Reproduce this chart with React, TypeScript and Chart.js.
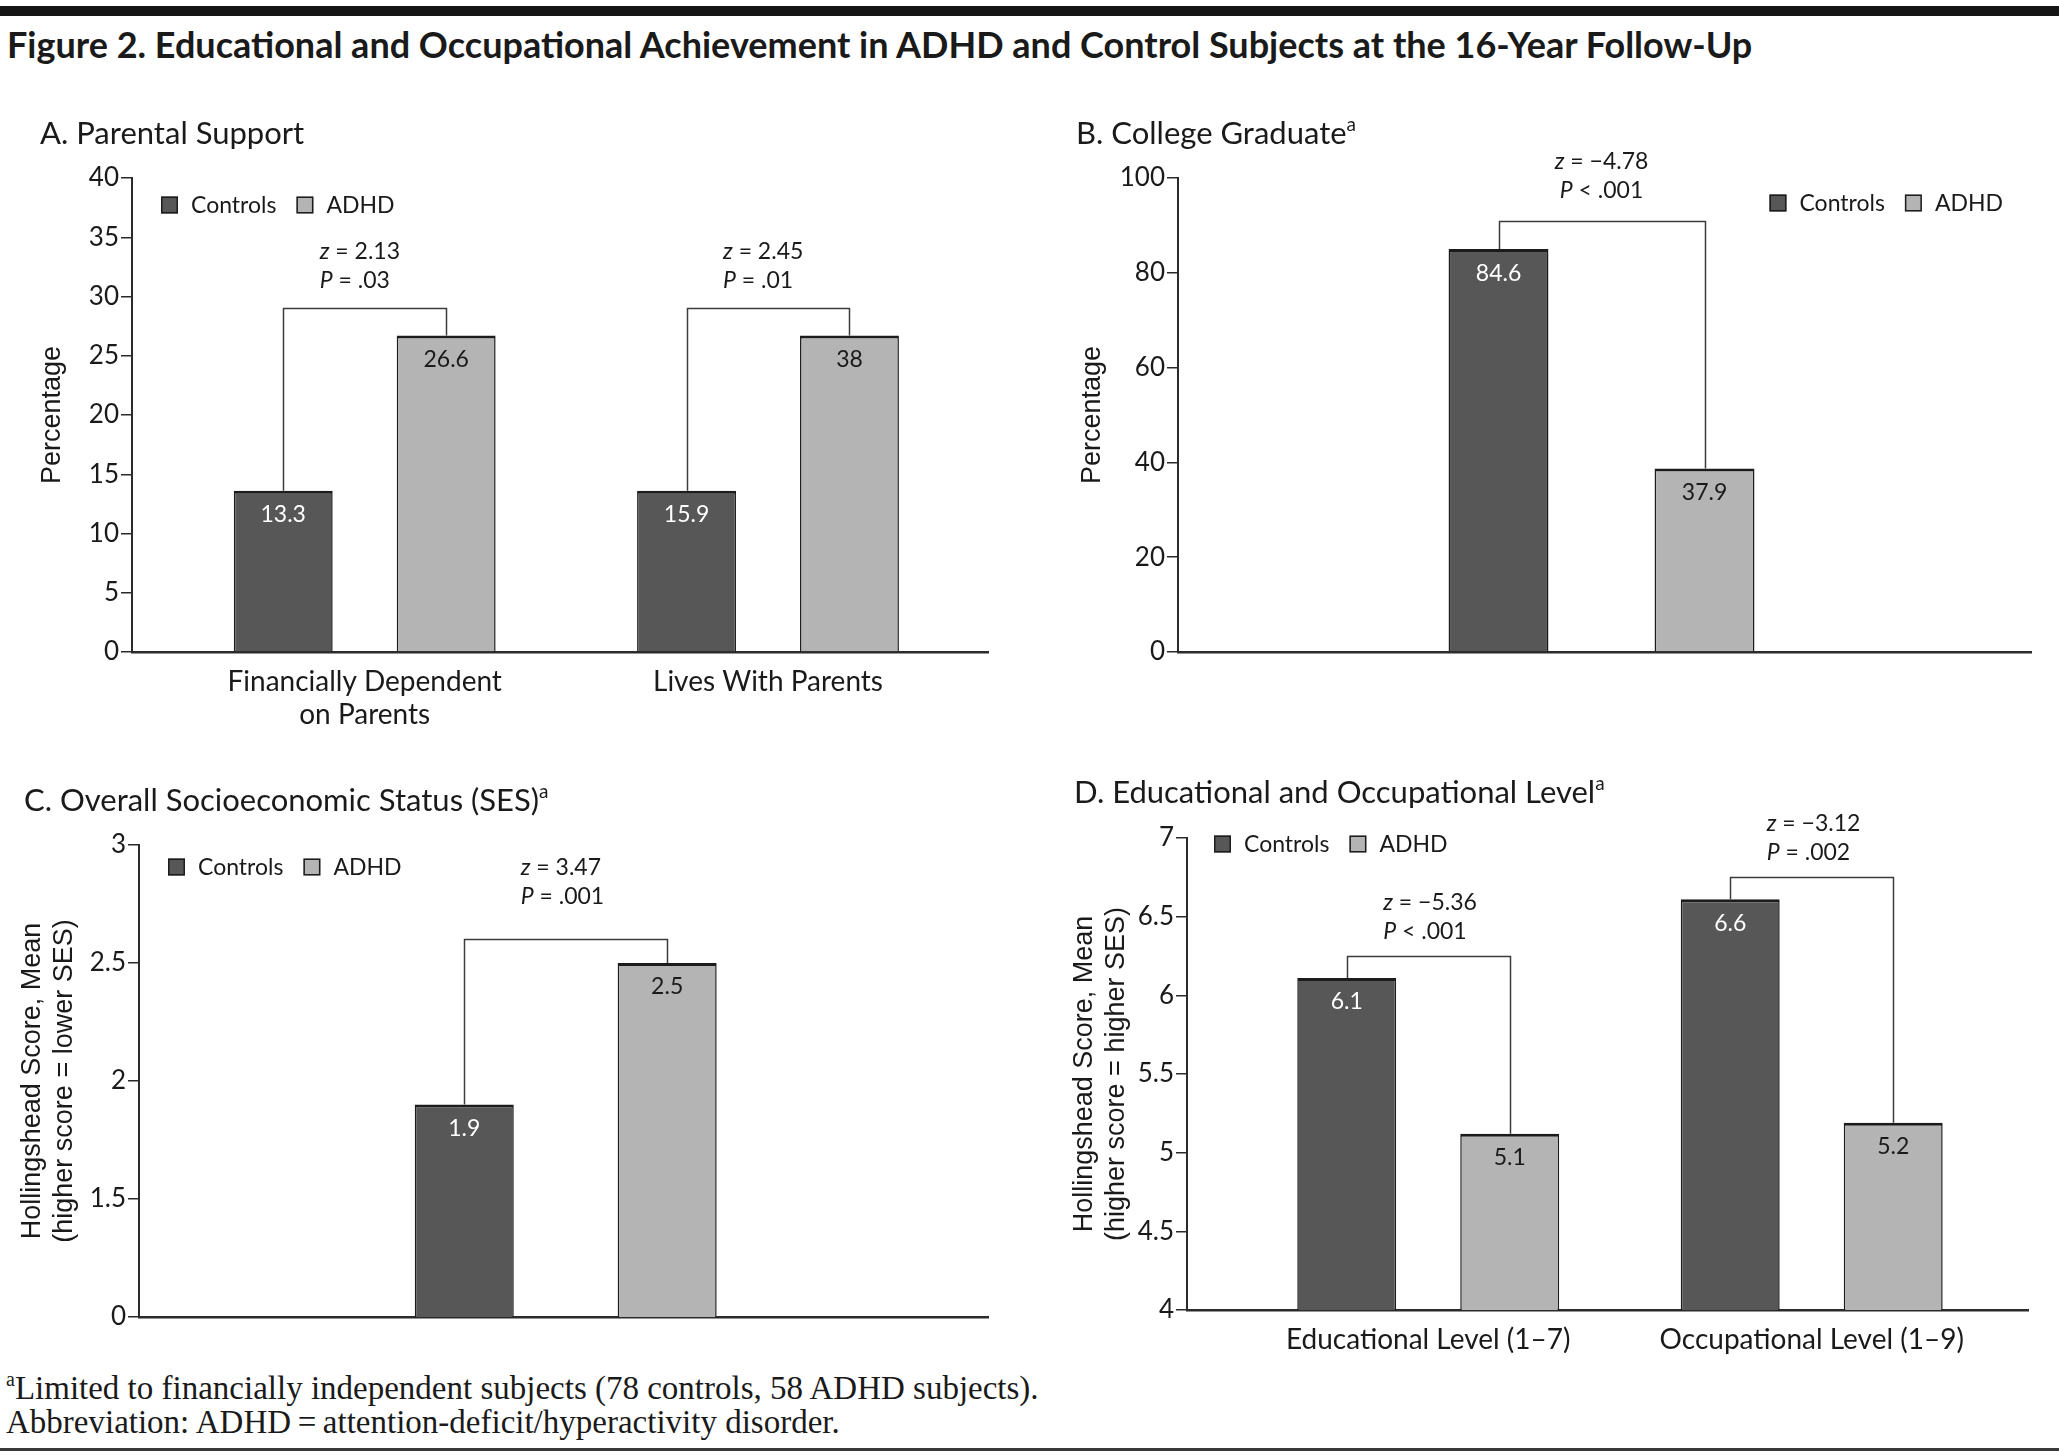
import React, { useEffect, useRef } from "react";
import { Chart, registerables } from "chart.js";

Chart.register(...registerables);

const SANS = "Lato, 'Open Sans', sans-serif";
const AXIS_TITLE_FONT = "'Liberation Sans', Arial, sans-serif";
const SERIF = "'Liberation Serif', 'Times New Roman', serif";

// ---------- shared series ----------
const seriesNames = ["Controls", "ADHD"];
const seriesColors = ["#575757", "#b4b4b4"];
const valueTextColors = ["#ffffff", "#1a1a1a"];

// ---------- Panel A: Parental Support ----------
const categoriesA = [["Financially Dependent", "on Parents"], ["Lives With Parents"]];
const controlsA = [13.6, 13.6]; // bar heights as drawn in the figure
const adhdA = [26.7, 26.7];
const controlsTextA = ["13.3", "15.9"]; // printed values
const adhdTextA = ["26.6", "38"];
const zA = ["2.13", "2.45"];
const pA = ["= .03", "= .01"];
const bracketA = [29, 29];
const yTicksA = [0, 5, 10, 15, 20, 25, 30, 35, 40];
const yTickLabelsA = ["0", "5", "10", "15", "20", "25", "30", "35", "40"];

// ---------- Panel B: College Graduate ----------
const categoriesB = [""];
const controlsB = [85.0];
const adhdB = [38.7];
const controlsTextB = ["84.6"];
const adhdTextB = ["37.9"];
const zB = ["\u22124.78"];
const pB = ["< .001"];
const bracketB = [91];
const yTicksB = [0, 20, 40, 60, 80, 100];
const yTickLabelsB = ["0", "20", "40", "60", "80", "100"];

// ---------- Panel C: Overall SES ----------
const categoriesC = [""];
const controlsC = [1.9];
const adhdC = [2.5];
const controlsTextC = ["1.9"];
const adhdTextC = ["2.5"];
const zC = ["3.47"];
const pC = ["= .001"];
const bracketC = [2.6];
const yTicksC = [1, 1.5, 2, 2.5, 3];
const yTickLabelsC = ["0", "1.5", "2", "2.5", "3"]; // broken axis: bottom tick printed as 0

// ---------- Panel D: Educational and Occupational Level ----------
const categoriesD = ["Educational Level (1\u20137)", "Occupational Level (1\u20139)"];
const controlsD = [6.11, 6.61];
const adhdD = [5.12, 5.19];
const controlsTextD = ["6.1", "6.6"];
const adhdTextD = ["5.1", "5.2"];
const zD = ["\u22125.36", "\u22123.12"];
const pD = ["< .001", "= .002"];
const bracketD = [6.25, 6.75];
const yTicksD = [4, 4.5, 5, 5.5, 6, 6.5, 7];
const yTickLabelsD = ["4", "4.5", "5", "5.5", "6", "6.5", "7"];

type Box = { left: number; top: number; width: number; height: number };
type Plot = { left: number; top: number; right: number; bottom: number };

interface PanelCfg {
  key: string;
  box: Box;
  plot: Plot;
  categories: (string | string[])[];
  controls: number[];
  adhd: number[];
  controlsText: string[];
  adhdText: string[];
  z: string[];
  p: string[];
  bracket: number[];
  yTicks: number[];
  yTickLabels: string[];
  yMin: number;
  yMax: number;
  xMin: number;
  xMax: number;
  catPct: number;
  barPct: number;
  yTitle: string | string[];
  yTitlePad: number;
  legend: { x: number; y: number; align: "left" | "right" };
  annotGap: number[];
  annotAlign: "left" | "center";
}

const panels: PanelCfg[] = [
  {
    key: "A",
    box: { left: 0, top: 150, width: 1030, height: 600 },
    plot: { left: 132, top: 178, right: 988, bottom: 652 },
    categories: categoriesA,
    controls: controlsA,
    adhd: adhdA,
    controlsText: controlsTextA,
    adhdText: adhdTextA,
    z: zA,
    p: pA,
    bracket: bracketA,
    yTicks: yTicksA,
    yTickLabels: yTickLabelsA,
    yMin: 0,
    yMax: 40,
    xMin: -0.577,
    xMax: 1.5455,
    catPct: 0.808,
    barPct: 0.607,
    yTitle: "Percentage",
    yTitlePad: 36,
    legend: { x: 161, y: 205, align: "left" },
    annotGap: [28, 28],
    annotAlign: "left",
  },
  {
    key: "B",
    box: { left: 1030, top: 150, width: 1029, height: 600 },
    plot: { left: 1178, top: 178, right: 2031, bottom: 652 },
    categories: categoriesB,
    controls: controlsB,
    adhd: adhdB,
    controlsText: controlsTextB,
    adhdText: adhdTextB,
    z: zB,
    p: pB,
    bracket: bracketB,
    yTicks: yTicksB,
    yTickLabels: yTickLabelsB,
    yMin: 0,
    yMax: 100,
    xMin: -0.4965,
    xMax: 0.5035,
    catPct: 0.483,
    barPct: 0.485,
    yTitle: "Percentage",
    yTitlePad: 46,
    legend: { x: 2003, y: 203, align: "right" },
    annotGap: [31],
    annotAlign: "center",
  },
  {
    key: "C",
    box: { left: 0, top: 760, width: 1030, height: 600 },
    plot: { left: 139, top: 845, right: 988, bottom: 1317 },
    categories: categoriesC,
    controls: controlsC,
    adhd: adhdC,
    controlsText: controlsTextC,
    adhdText: adhdTextC,
    z: zC,
    p: pC,
    bracket: bracketC,
    yTicks: yTicksC,
    yTickLabels: yTickLabelsC,
    yMin: 1,
    yMax: 3,
    xMin: -0.5026,
    xMax: 0.4974,
    catPct: 0.478,
    barPct: 0.488,
    yTitle: ["Hollingshead Score, Mean", "(higher score = lower SES)"],
    yTitlePad: 16,
    legend: { x: 168, y: 867, align: "left" },
    annotGap: [43],
    annotAlign: "left",
  },
  {
    key: "D",
    box: { left: 1030, top: 760, width: 1029, height: 600 },
    plot: { left: 1187, top: 838, right: 2028, bottom: 1310 },
    categories: categoriesD,
    controls: controlsD,
    adhd: adhdD,
    controlsText: controlsTextD,
    adhdText: adhdTextD,
    z: zD,
    p: pD,
    bracket: bracketD,
    yTicks: yTicksD,
    yTickLabels: yTickLabelsD,
    yMin: 4,
    yMax: 7,
    xMin: -0.629,
    xMax: 1.564,
    catPct: 0.85,
    barPct: 0.607,
    yTitle: ["Hollingshead Score, Mean", "(higher score = higher SES)"],
    yTitlePad: 38,
    legend: { x: 1214, y: 844, align: "left" },
    annotGap: [25, 25],
    annotAlign: "left",
  },
];

function drawStat(
  ctx: CanvasRenderingContext2D,
  letter: string,
  rest: string,
  x: number,
  y: number,
  align: "left" | "center"
) {
  ctx.textAlign = "left";
  ctx.textBaseline = "middle";
  ctx.fillStyle = "#1a1a1a";
  ctx.font = `italic 23px ${SANS}`;
  const w = ctx.measureText(letter).width;
  ctx.font = `23px ${SANS}`;
  const restText = " " + rest;
  const w2 = ctx.measureText(restText).width;
  const start = align === "center" ? x - (w + w2) / 2 : x;
  ctx.font = `italic 23px ${SANS}`;
  ctx.fillText(letter, start, y);
  ctx.font = `23px ${SANS}`;
  ctx.fillText(restText, start + w, y);
}

function makeDecor(cfg: PanelCfg) {
  return {
    id: "decor" + cfg.key,
    afterDatasetsDraw(chart: any) {
      const ctx: CanvasRenderingContext2D = chart.ctx;
      const yScale = chart.scales.y;
      const m0 = chart.getDatasetMeta(0);
      const m1 = chart.getDatasetMeta(1);
      ctx.save();

      // brackets + statistics
      cfg.bracket.forEach((b, i) => {
        const e0 = m0.data[i];
        const e1 = m1.data[i];
        const ty = Math.round(yScale.getPixelForValue(b)) + 0.5;
        ctx.strokeStyle = "#3c3c3c";
        ctx.lineWidth = 1.5;
        ctx.beginPath();
        ctx.moveTo(Math.round(e0.x) + 0.5, e0.y);
        ctx.lineTo(Math.round(e0.x) + 0.5, ty);
        ctx.lineTo(Math.round(e1.x) + 0.5, ty);
        ctx.lineTo(Math.round(e1.x) + 0.5, e1.y);
        ctx.stroke();
        const cx = (e0.x + e1.x) / 2;
        const lx = cfg.annotAlign === "center" ? cx : cx - 45;
        const pY = ty - cfg.annotGap[i];
        const zY = pY - 29;
        drawStat(ctx, "z", "= " + cfg.z[i], lx, zY, cfg.annotAlign);
        drawStat(ctx, "P", cfg.p[i], lx, pY, cfg.annotAlign);
      });

      // value labels inside bars
      const texts = [cfg.controlsText, cfg.adhdText];
      [m0, m1].forEach((m: any, di: number) => {
        m.data.forEach((el: any, i: number) => {
          ctx.fillStyle = valueTextColors[di];
          ctx.font = `23px ${SANS}`;
          ctx.textAlign = "center";
          ctx.textBaseline = "middle";
          ctx.fillText(texts[di][i], el.x, el.y + 24);
        });
      });

      // legend
      const ox = cfg.box.left;
      const oy = cfg.box.top;
      ctx.font = `23px ${SANS}`;
      const sq = 17;
      const gapText = 13;
      const gapItem = 20;
      const items = chart.data.datasets.map((d: any) => ({
        label: d.label as string,
        color: d.backgroundColor as string,
        w: ctx.measureText(d.label).width,
      }));
      let total = 0;
      items.forEach((it: any, k: number) => {
        total += sq + gapText + it.w + (k < items.length - 1 ? gapItem : 0);
      });
      let x = (cfg.legend.align === "left" ? cfg.legend.x : cfg.legend.x - total) - ox;
      const cy = cfg.legend.y - oy;
      items.forEach((it: any) => {
        ctx.fillStyle = it.color;
        ctx.fillRect(x, cy - sq / 2, sq, sq);
        ctx.strokeStyle = "#1c1c1c";
        ctx.lineWidth = 1.5;
        ctx.strokeRect(x + 0.75, cy - sq / 2 + 0.75, sq - 1.5, sq - 1.5);
        ctx.fillStyle = "#1a1a1a";
        ctx.textAlign = "left";
        ctx.textBaseline = "middle";
        ctx.fillText(it.label, x + sq + gapText, cy + 1);
        x += sq + gapText + it.w + gapItem;
      });

      ctx.restore();
    },
  };
}

function PanelChart({ cfg }: { cfg: PanelCfg }) {
  const ref = useRef<HTMLCanvasElement | null>(null);
  useEffect(() => {
    if (!ref.current) return;
    const { box, plot } = cfg;
    const mk = (vals: number[]) => vals.map((v, i) => ({ x: i, y: v }));
    const chart = new Chart(ref.current, {
      type: "bar",
      data: {
        datasets: [
          {
            label: seriesNames[0],
            data: mk(cfg.controls) as any,
            backgroundColor: seriesColors[0],
            borderColor: "#1c1c1c",
            borderWidth: { top: 3, left: 1.5, right: 1.5, bottom: 0 } as any,
          },
          {
            label: seriesNames[1],
            data: mk(cfg.adhd) as any,
            backgroundColor: seriesColors[1],
            borderColor: "#1c1c1c",
            borderWidth: { top: 3, left: 1.5, right: 1.5, bottom: 0 } as any,
          },
        ],
      },
      options: {
        animation: false,
        responsive: true,
        maintainAspectRatio: false,
        layout: {
          padding: {
            left: 0,
            top: plot.top - box.top,
            right: box.left + box.width - plot.right,
            bottom: 0,
          },
        },
        datasets: {
          bar: { categoryPercentage: cfg.catPct, barPercentage: cfg.barPct },
        } as any,
        plugins: {
          legend: { display: false },
          tooltip: { enabled: false },
          title: { display: false },
        },
        scales: {
          x: {
            type: "linear",
            min: cfg.xMin,
            max: cfg.xMax,
            offset: false,
            grid: { display: false, drawTicks: false },
            border: { display: true, color: "#2b2b2b", width: 2.5 },
            afterBuildTicks: (s: any) => {
              s.ticks = cfg.categories.map((_, i) => ({ value: i }));
            },
            afterFit: (s: any) => {
              s.height = box.top + box.height - plot.bottom;
            },
            ticks: {
              autoSkip: false,
              maxRotation: 0,
              minRotation: 0,
              padding: 13,
              color: "#1a1a1a",
              font: { family: SANS, size: 28, lineHeight: 1.18 },
              callback: (_v: any, i: number) => cfg.categories[i] as any,
            },
          },
          y: {
            type: "linear",
            min: cfg.yMin,
            max: cfg.yMax,
            grid: {
              display: true,
              drawOnChartArea: false,
              drawTicks: true,
              tickLength: 11,
              color: "#2b2b2b",
              lineWidth: 1.5,
            },
            border: { display: true, color: "#2b2b2b", width: 2 },
            afterBuildTicks: (s: any) => {
              s.ticks = cfg.yTicks.map((v) => ({ value: v }));
            },
            afterFit: (s: any) => {
              s.width = plot.left - box.left;
            },
            ticks: {
              autoSkip: false,
              padding: 2,
              color: "#1a1a1a",
              font: { family: SANS, size: 26 },
              callback: (_v: any, i: number) => cfg.yTickLabels[i],
            },
            title: {
              display: true,
              text: cfg.yTitle as any,
              color: "#1a1a1a",
              font: { family: AXIS_TITLE_FONT, size: 27, lineHeight: 1.2 },
              padding: { top: cfg.yTitlePad, bottom: 0 },
            },
          },
        } as any,
      },
      plugins: [makeDecor(cfg) as any],
    });
    return () => chart.destroy();
  }, [cfg]);

  return (
    <div
      style={{
        position: "absolute",
        left: cfg.box.left,
        top: cfg.box.top,
        width: cfg.box.width,
        height: cfg.box.height,
      }}
    >
      <canvas ref={ref} />
    </div>
  );
}

const panelTitles = [
  { text: "A. Parental Support", sup: "", left: 40, baseline: 145 },
  { text: "B. College Graduate", sup: "a", left: 1076, baseline: 145 },
  { text: "C. Overall Socioeconomic Status (SES)", sup: "a", left: 24, baseline: 812 },
  { text: "D. Educational and Occupational Level", sup: "a", left: 1074, baseline: 804 },
];

const figureTitle =
  "Figure 2. Educational and Occupational Achievement in ADHD and Control Subjects at the 16-Year Follow-Up";
const footnoteLines = [
  { sup: "a", text: "Limited to financially independent subjects (78 controls, 58 ADHD subjects)." },
  { sup: "", text: "Abbreviation: ADHD\u2009=\u2009attention-deficit/hyperactivity disorder." },
];

export default function App() {
  const titleSize = 31;
  const figSize = 36;
  const footSize = 33;
  return (
    <div
      style={{
        position: "absolute",
        left: 0,
        top: 0,
        width: 2059,
        height: 1456,
        background: "#ffffff",
        overflow: "hidden",
      }}
    >
      <div style={{ position: "absolute", left: 0, top: 6, width: 2059, height: 10, background: "#151515" }} />
      <div
        style={{
          position: "absolute",
          left: 7,
          top: 59 - 0.987 * figSize,
          fontFamily: SANS,
          fontWeight: 700,
          fontSize: figSize,
          lineHeight: 1.2,
          color: "#1a1a1a",
          whiteSpace: "nowrap",
        }}
      >
        {figureTitle}
      </div>
      {panels.map((p) => (
        <PanelChart key={p.key} cfg={p} />
      ))}
      {panelTitles.map((t) => (
        <div
          key={t.text}
          style={{
            position: "absolute",
            left: t.left,
            top: t.baseline - 0.987 * titleSize,
            fontFamily: SANS,
            fontSize: titleSize,
            lineHeight: 1.2,
            color: "#1a1a1a",
            whiteSpace: "nowrap",
          }}
        >
          {t.text}
          {t.sup ? (
            <span style={{ fontSize: 19, position: "relative", top: -13 }}>{t.sup}</span>
          ) : null}
        </div>
      ))}
      {footnoteLines.map((l, i) => (
        <div
          key={i}
          style={{
            position: "absolute",
            left: 6,
            top: 1369 + i * 34,
            fontFamily: SERIF,
            fontSize: footSize,
            lineHeight: 1.2,
            color: "#1a1a1a",
            whiteSpace: "nowrap",
          }}
        >
          {l.sup ? <span style={{ fontSize: 20, position: "relative", top: -13 }}>{l.sup}</span> : null}
          {l.text}
        </div>
      ))}
      <div style={{ position: "absolute", left: 0, top: 1448, width: 2059, height: 3, background: "#3a3a3a" }} />
    </div>
  );
}
